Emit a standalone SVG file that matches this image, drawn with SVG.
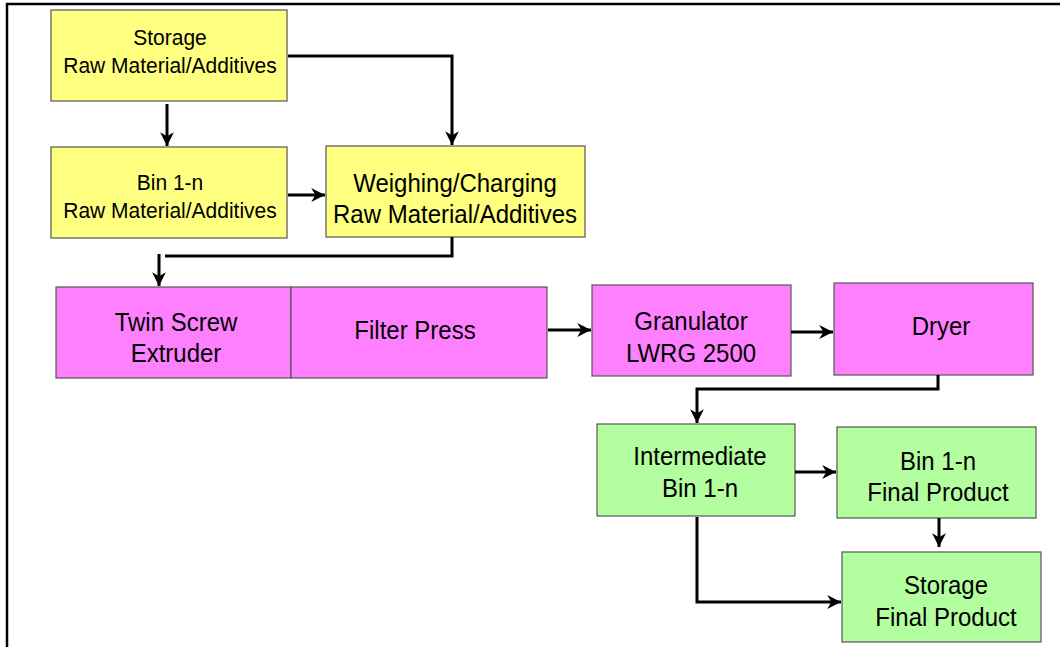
<svg xmlns="http://www.w3.org/2000/svg" width="1060" height="647" viewBox="0 0 1060 647">
<style>
.box{stroke:#555;stroke-width:1.2}
.y{fill:#FFFF80}
.m{fill:#FF80FF}
.g{fill:#B3FFA0}
text{font-family:"Liberation Sans",Arial,sans-serif;fill:#000;text-anchor:middle}
.s{font-size:21px}
.l{font-size:24px}
.c{fill:none;stroke:#000;stroke-width:3}
</style>
<defs>
<marker id="ah" viewBox="0 0 10 10" refX="10" refY="5" markerWidth="4.6" markerHeight="5" markerUnits="strokeWidth" orient="auto">
<path d="M0,0 L10,5 L0,10 L3,5 Z" fill="#000"/>
</marker>
</defs>
<rect width="1060" height="647" fill="#fff"/>
<path d="M7,647 V4 H1060" fill="none" stroke="#000" stroke-width="2.5"/>
<g id="storage-raw">
<rect class="box y" x="51" y="10" width="236" height="91"/>
<text class="s" transform="matrix(1,0,0,1.07,170,45)">Storage</text>
<text class="s" transform="matrix(1,0,0,1.07,170,73)">Raw Material/Additives</text>
</g>
<g id="bin-raw">
<rect class="box y" x="51" y="147" width="236" height="91"/>
<text class="s" transform="matrix(1,0,0,1.07,170,190)">Bin 1-n</text>
<text class="s" transform="matrix(1,0,0,1.07,170,218)">Raw Material/Additives</text>
</g>
<g id="weighing">
<rect class="box y" x="326" y="146" width="259" height="91"/>
<text class="l" transform="matrix(1,0,0,1.1,455,192)">Weighing/Charging</text>
<text class="l" transform="matrix(1,0,0,1.1,455,223)">Raw Material/Additives</text>
</g>
<g id="extruder">
<rect class="box m" x="56" y="287" width="235" height="91"/>
<text class="l" transform="matrix(1,0,0,1.1,176,331)">Twin Screw</text>
<text class="l" transform="matrix(1,0,0,1.1,176,362)">Extruder</text>
</g>
<g id="filter-press">
<rect class="box m" x="291" y="287" width="256" height="91"/>
<text class="l" transform="matrix(1,0,0,1.1,415,339)">Filter Press</text>
</g>
<g id="granulator">
<rect class="box m" x="592" y="285" width="199" height="91"/>
<text class="l" transform="matrix(1,0,0,1.1,691,330)">Granulator</text>
<text class="l" transform="matrix(1,0,0,1.1,691,362)">LWRG 2500</text>
</g>
<g id="dryer">
<rect class="box m" x="834" y="283" width="199" height="92"/>
<text class="l" transform="matrix(1,0,0,1.1,941,335)">Dryer</text>
</g>
<g id="intermediate">
<rect class="box g" x="597" y="424" width="198" height="92"/>
<text class="l" transform="matrix(1,0,0,1.1,700,465)">Intermediate</text>
<text class="l" transform="matrix(1,0,0,1.1,700,497)">Bin 1-n</text>
</g>
<g id="bin-final">
<rect class="box g" x="837" y="427" width="199" height="91"/>
<text class="l" transform="matrix(1,0,0,1.1,938,470)">Bin 1-n</text>
<text class="l" transform="matrix(1,0,0,1.1,938,501)">Final Product</text>
</g>
<g id="storage-final">
<rect class="box g" x="842" y="552" width="199" height="90"/>
<text class="l" transform="matrix(1,0,0,1.1,946,594)">Storage</text>
<text class="l" transform="matrix(1,0,0,1.1,946,626)">Final Product</text>
</g>
<g id="connectors">
<path class="c" d="M288,56 H452 V145" marker-end="url(#ah)"/>
<path class="c" d="M167,104 V146" marker-end="url(#ah)"/>
<path class="c" d="M288,195 H325" marker-end="url(#ah)"/>
<path class="c" d="M452,237 V256 H165"/>
<path class="c" d="M159,254 V286" marker-end="url(#ah)"/>
<path class="c" d="M548,330 H591" marker-end="url(#ah)"/>
<path class="c" d="M791,332 H833" marker-end="url(#ah)"/>
<path class="c" d="M938,375 V389 H697 V423" marker-end="url(#ah)"/>
<path class="c" d="M795,472 H836" marker-end="url(#ah)"/>
<path class="c" d="M939,518 V547" marker-end="url(#ah)"/>
<path class="c" d="M697,517 V602 H841" marker-end="url(#ah)"/>
</g>
</svg>
